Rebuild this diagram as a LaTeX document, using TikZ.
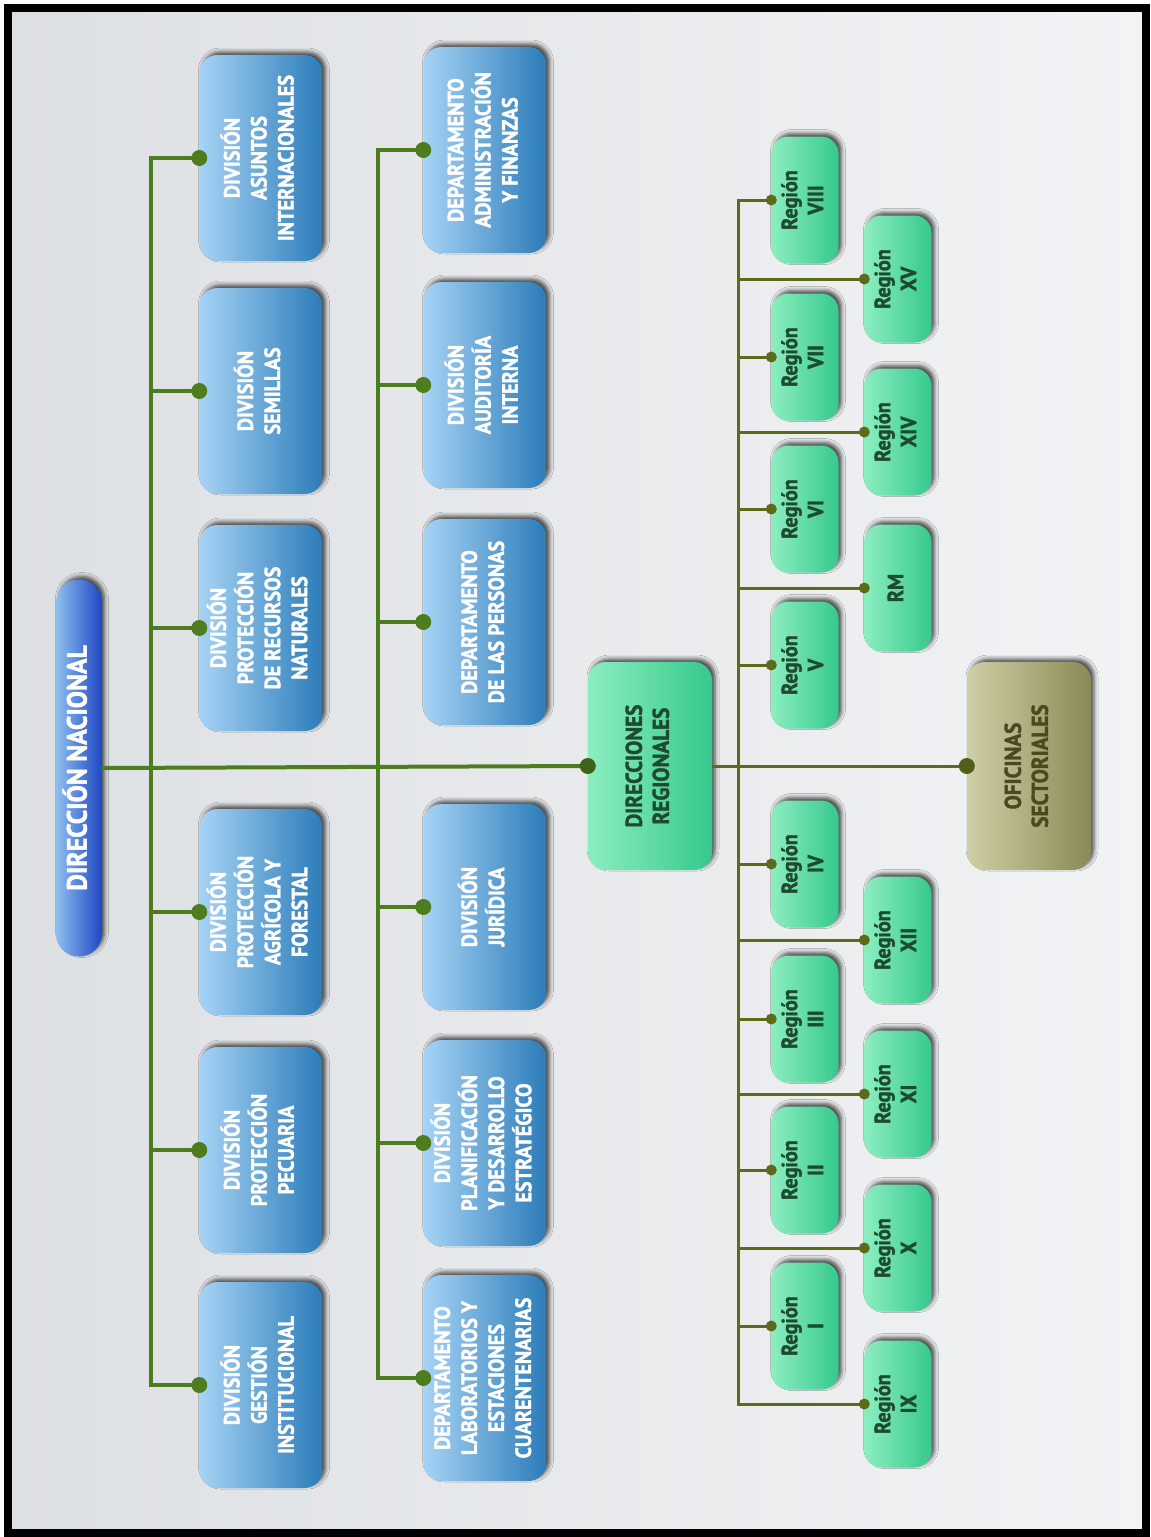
\documentclass[tikz,border=0pt]{standalone}
\usepackage{fontspec}
\usepackage{graphicx}
\usetikzlibrary{shadows.blur}
\newfontfamily\orgfont{PT Sans}[FakeStretch=0.92, BoldFeatures={FakeBold=1.6}]

\definecolor{bgL}{HTML}{DDE0E3}
\definecolor{bgR}{HTML}{F2F3F5}
\definecolor{blueL}{HTML}{A6D3F5}
\definecolor{blueD}{HTML}{2C7CB9}
\definecolor{navyL}{HTML}{8DBEF0}
\definecolor{navyD}{HTML}{1E48C2}
\definecolor{mintL}{HTML}{8CEEC0}
\definecolor{mintD}{HTML}{36C98C}
\definecolor{khakiL}{HTML}{CFCFA5}
\definecolor{khakiD}{HTML}{8A8A56}
\definecolor{regtext}{HTML}{1D4B2C}
\definecolor{khakitext}{HTML}{4A4A1E}
\definecolor{linkgreen}{HTML}{4E7D20}
\definecolor{linkolive}{HTML}{5C6A1B}

% multi-line label turned to read upwards
\newcommand\vtext[1]{\rotatebox{90}{\begin{tabular}{@{}c@{}}#1\end{tabular}}}

\begin{document}
\begin{tikzpicture}[x=1pt,y=-1pt,
  boxshadow/.style={blur shadow={shadow xshift=3pt, shadow yshift=3pt,
      shadow blur radius=4pt, shadow opacity=70}},
  bluebox/.style={rectangle, rounded corners=18pt, inner sep=0pt,
      minimum width=123pt, minimum height=206pt,
      left color=blueL, right color=blueD, text=white, boxshadow,
      font=\orgfont\bfseries\fontsize{22}{27}\selectfont},
  dnbox/.style={rectangle, rounded corners=22pt, inner sep=0pt,
      minimum width=45pt, minimum height=377pt,
      left color=navyL, right color=navyD, text=white, boxshadow,
      font=\orgfont\bfseries\fontsize{28}{30}\selectfont},
  greenbox/.style={rectangle, rounded corners=18pt, inner sep=0pt,
      minimum width=124pt, minimum height=208pt,
      left color=mintL, right color=mintD, text=regtext, boxshadow,
      font=\orgfont\bfseries\fontsize{23}{27}\selectfont},
  khakibox/.style={greenbox, left color=khakiL, right color=khakiD,
      text=khakitext},
  regbox/.style={rectangle, rounded corners=17pt, inner sep=0pt,
      minimum width=67pt, minimum height=127pt,
      left color=mintL, right color=mintD, text=regtext, boxshadow,
      font=\orgfont\bfseries\fontsize{22}{26}\selectfont},
  link/.style={line width=4pt, draw=linkgreen},
  rlink/.style={line width=3pt, draw=linkolive},
]
\useasboundingbox (0,0) rectangle (1151,1537);
\fill[white] (0,0) rectangle (1151,1537);
\shade[left color=bgL, right color=bgR] (8,8) rectangle (1146,1533);

% head office
\node[dnbox] (dn) at (79,768) {\vtext{DIRECCIÓN NACIONAL}};

% first column of divisions
\node[bluebox] (asuntos)   at (261,158)  {\vtext{DIVISIÓN\\ASUNTOS\\INTERNACIONALES}};
\node[bluebox] (semillas)  at (261,391)  {\vtext{DIVISIÓN\\SEMILLAS}};
\node[bluebox] (recursos)  at (261,628)  {\vtext{DIVISIÓN\\PROTECCIÓN\\DE RECURSOS\\NATURALES}};
\node[bluebox] (agricola)  at (261,912)  {\vtext{DIVISIÓN\\PROTECCIÓN\\AGRÍCOLA Y\\FORESTAL}};
\node[bluebox] (pecuaria)  at (261,1150) {\vtext{DIVISIÓN\\PROTECCIÓN\\PECUARIA}};
\node[bluebox] (gestion)   at (261,1385) {\vtext{DIVISIÓN\\GESTIÓN\\INSTITUCIONAL}};

% second column of divisions and departments
\node[bluebox] (admin)     at (485,150)  {\vtext{DEPARTAMENTO\\ADMINISTRACIÓN\\Y FINANZAS}};
\node[bluebox] (auditoria) at (485,385)  {\vtext{DIVISIÓN\\AUDITORÍA\\INTERNA}};
\node[bluebox] (personas)  at (485,622)  {\vtext{DEPARTAMENTO\\DE LAS PERSONAS}};
\node[bluebox] (juridica)  at (485,907)  {\vtext{DIVISIÓN\\JURÍDICA}};
\node[bluebox] (planif)    at (485,1143) {\vtext{DIVISIÓN\\PLANIFICACIÓN\\Y DESARROLLO\\ESTRATÉGICO}};
\node[bluebox] (labs)      at (485,1378) {\vtext{DEPARTAMENTO\\LABORATORIOS Y\\ESTACIONES\\CUARENTENARIAS}};

% regional and sector offices
\node[greenbox] (dr) at (650,766)  {\vtext{DIRECCIONES\\REGIONALES}};
\node[khakibox] (os) at (1029,766) {\vtext{OFICINAS\\SECTORIALES}};

% regions, inner column
\node[regbox] (r8) at (805,200)  {\vtext{Región\\VIII}};
\node[regbox] (r7) at (805,357)  {\vtext{Región\\VII}};
\node[regbox] (r6) at (805,509)  {\vtext{Región\\VI}};
\node[regbox] (r5) at (805,665)  {\vtext{Región\\V}};
\node[regbox] (r4) at (805,864)  {\vtext{Región\\IV}};
\node[regbox] (r3) at (805,1019) {\vtext{Región\\III}};
\node[regbox] (r2) at (805,1170) {\vtext{Región\\II}};
\node[regbox] (r1) at (805,1326) {\vtext{Región\\I}};
% regions, outer column
\node[regbox] (r15) at (898,279)  {\vtext{Región\\XV}};
\node[regbox] (r14) at (898,432)  {\vtext{Región\\XIV}};
\node[regbox] (rm)  at (898,588)  {\vtext{RM}};
\node[regbox] (r12) at (898,940)  {\vtext{Región\\XII}};
\node[regbox] (r11) at (898,1094) {\vtext{Región\\XI}};
\node[regbox] (r10) at (898,1248) {\vtext{Región\\X}};
\node[regbox] (r9)  at (898,1404) {\vtext{Región\\IX}};

% junctions on the main line
\coordinate (j1) at (151,768);
\coordinate (j2) at (378,768);
\coordinate (j3) at (738,768);

% main line
\draw[link] (dn.east) -- (dr.west);
\draw[rlink] (dr.east) -- (os.west);

% first column
\draw[link] (asuntos.west) -| (j1) |- (gestion.west);
\foreach \n in {semillas,recursos,agricola,pecuaria}
  \draw[link] (\n.west) -- (\n.west -| j1);

% second column
\draw[link] (admin.west) -| (j2) |- (labs.west);
\foreach \n in {auditoria,personas,juridica,planif}
  \draw[link] (\n.west) -- (\n.west -| j2);

% regions
\draw[rlink] (r8.west) -| (j3) |- (r9.west);
\foreach \n in {r7,r6,r5,r4,r3,r2,r1,r15,r14,rm,r12,r11,r10}
  \draw[rlink] (\n.west) -- (\n.west -| j3);

% end dots
\foreach \n in {asuntos,semillas,recursos,agricola,pecuaria,gestion,
                admin,auditoria,personas,juridica,planif,labs}
  \fill[linkgreen] (\n.west) circle (8pt);
\fill[linkgreen!80!black] (dr.west) circle (8pt);
\fill[linkolive!90!black] (os.west) circle (8pt);
\foreach \n in {r8,r7,r6,r5,r4,r3,r2,r1,r15,r14,rm,r12,r11,r10,r9}
  \fill[linkolive] (\n.west) circle (5.5pt);

% frame
\draw[line width=8pt] (8,8) rectangle (1146,1533);
\end{tikzpicture}
\end{document}
